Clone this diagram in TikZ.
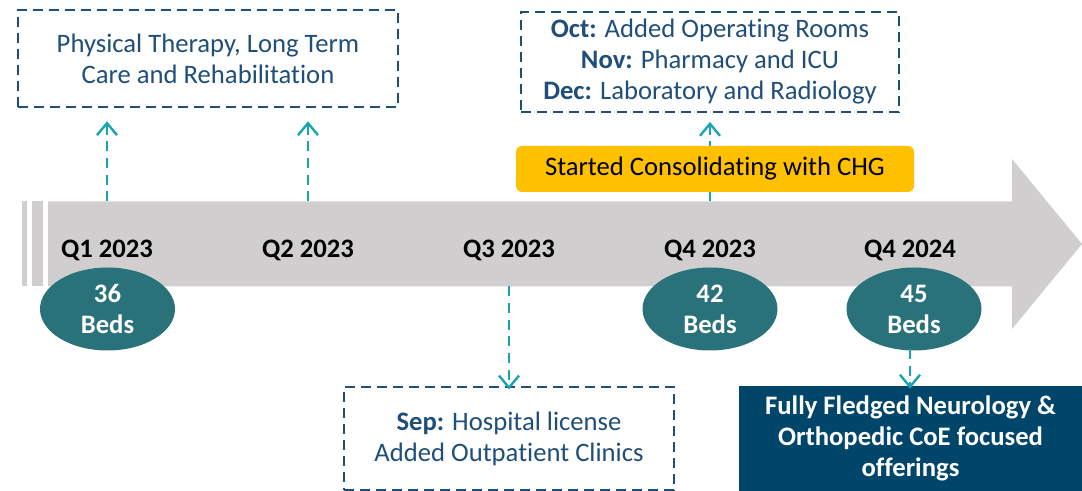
\documentclass[tikz,border=0pt]{standalone}
\usepackage{fontspec}
\setmainfont[Ligatures=NoCommon]{Carlito}
\usetikzlibrary{arrows.meta,shapes.geometric}
\definecolor{dblue}{RGB}{31,78,121}
\definecolor{navy}{RGB}{0,70,107}
\definecolor{tealE}{RGB}{41,114,121}
\definecolor{tealA}{RGB}{24,164,176}
\definecolor{barg}{RGB}{208,206,206}
\definecolor{gold}{RGB}{255,192,0}
\begin{document}
\begin{tikzpicture}[x=0.75pt,y=-0.75pt,
  txt/.style={font=\fontsize{20}{23.25}\selectfont, align=center},
  dbox/.style={draw=dblue, line width=1.9pt, dash pattern=on 7.5pt off 4.5pt, text=dblue, txt, inner sep=0pt},
  conn/.style={draw=tealA, line width=1.9pt, dash pattern=on 7.5pt off 5pt, -{Straight Barb[length=9pt,width=15pt,line width=1.8pt]}},
  qlab/.style={font=\fontsize{20}{23.25}\selectfont\bfseries, text=black, inner sep=0pt},
  beds/.style={ellipse, fill=tealE, minimum width=101.25pt, minimum height=62.25pt, inner sep=0pt, text=white, align=center, font=\fontsize{20}{23.25}\selectfont\bfseries}]
\useasboundingbox (0,0) rectangle (1082,491);
% timeline bar
\fill[barg] (48,201.5) -- (1012,201.5) -- (1012,159) -- (1082,244) -- (1012,329) -- (1012,286.5) -- (48,286.5) -- cycle;
\fill[barg] (22,201.5) rectangle (27,286.5);
\fill[barg] (32,201.5) rectangle (43,286.5);
% connector anchors on the bar
\coordinate (b1) at (107,201.5);
\coordinate (b2) at (308,201.5);
\coordinate (b3) at (509,286.5);
\coordinate (b4) at (710,201.5);
\coordinate (b5) at (910,349);
% quarter labels
\node[qlab] (q1) at (107,250) {Q1 2023};
\node[qlab] (q2) at (308,250) {Q2 2023};
\node[qlab] (q3) at (509,250) {Q3 2023};
\node[qlab] (q4) at (710,250) {Q4 2023};
\node[qlab] (q5) at (910,250) {Q4 2024};
% beds
\node[beds] (e1) at (107.5,309) {36\\Beds};
\node[beds] (e2) at (710,309) {42\\Beds};
\node[beds] (e3) at (914,309) {45\\Beds};
% boxes
\node[dbox, minimum width=285pt, minimum height=72.75pt] (tl) at (208,58.5) {Physical Therapy, Long Term\\Care and Rehabilitation};
\node[dbox, minimum width=283.5pt, minimum height=75pt] (tr) at (710,62) {\textbf{Oct:} Added Operating Rooms\\\textbf{Nov:} Pharmacy and ICU\\\textbf{Dec:} Laboratory and Radiology};
\node[dbox, minimum width=247.5pt, minimum height=77.25pt] (sep) at (509,438.5) {\textbf{Sep:} Hospital license\\Added Outpatient Clinics};
\node[fill=navy, text=white, txt, font=\fontsize{20}{23.25}\selectfont\bfseries, minimum width=257.25pt, minimum height=78.75pt, inner sep=0pt] (fn) at (910.5,438.5) {Fully Fledged Neurology \&\\Orthopedic CoE focused\\offerings};
% connectors
\draw[conn, shorten >=9.75pt] (b1) -- (b1 |- tl.south);
\draw[conn, shorten >=9.75pt] (b2) -- (b2 |- tl.south);
\draw[conn, shorten >=6.5pt] (b4) -- (b4 |- tr.south);
\draw[conn, shorten >=-2.8pt] (b3) -- (b3 |- sep.north);
\draw[conn, shorten >=-2.2pt] (b5) -- (b5 |- fn.north);
% yellow banner (above the connector)
\node[fill=gold, rounded corners=4.5pt, txt, text=black, minimum width=298.5pt, minimum height=34.5pt, inner sep=0pt] (chg) at (715,169) {Started Consolidating with CHG};
\end{tikzpicture}
\end{document}
